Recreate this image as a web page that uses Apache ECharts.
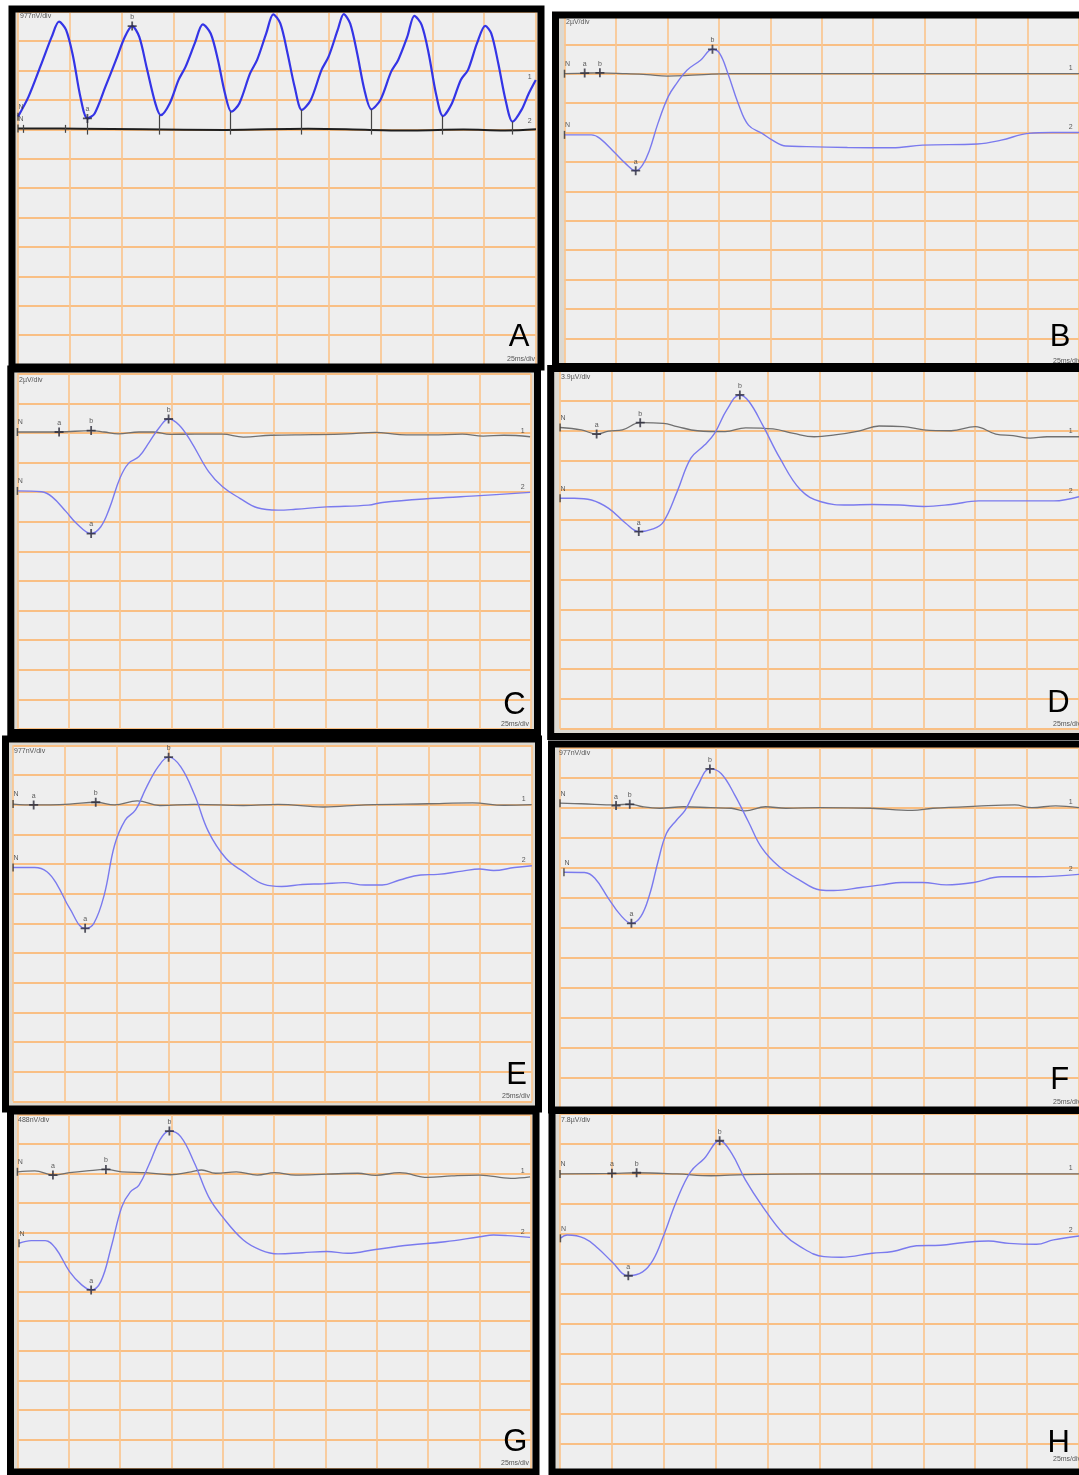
<!DOCTYPE html>
<html><head><meta charset="utf-8">
<script src="https://cdn.jsdelivr.net/npm/echarts/dist/echarts.min.js"></script>
<style>html,body{margin:0;padding:0;background:#fff}#c{width:1079px;height:1475px}</style>
</head><body><div id="c"></div><script>
// ---- axes: time in ms (25 ms/div, 10 div), amplitude in divisions (12 div)
const X_MIN = 0, X_MAX = 250, X_STEP = 25;
const Y_MIN = 0, Y_MAX = 12, Y_STEP = 1;
const panelIds = ['A','B','C','D','E','F','G','H'];
const scaleLabels = ['977nV/div','2µV/div','2µV/div','3.9µV/div','977nV/div','977nV/div','488nV/div','7.8µV/div'];
const timeBaseLabel = '25ms/div';

// ---- traces: [time ms, amplitude div]
const traceA1 = [[0,8.03],[30,8.02],[60,8.0],[100,7.98],[140,8.02],[170,7.98],[190,7.96],[215,7.99],[235,7.96],[250,8.0]];
const traceA2 = [[0,8.43],[5.1,9.11],[11.1,10.19],[16.3,11.15],[19.8,11.66],[23.2,11.38],[26.6,10.47],[30.1,9.11],[33.5,8.37],[37.0,8.54],[42.2,9.45],[47.3,10.36],[51.6,11.15],[55.1,11.51],[58.5,11.15],[62.0,10.13],[66.3,8.88],[68.9,8.48],[73.2,8.88],[77.5,9.68],[80.9,10.13],[85.3,10.92],[89.2,11.57],[93.0,11.26],[96.5,10.36],[99.9,9.22],[103.0,8.60],[106.8,8.88],[112.0,9.90],[115.4,10.36],[119.8,11.26],[123.2,11.91],[126.6,11.60],[130.1,10.58],[133.5,9.45],[137.0,8.66],[141.3,9.00],[146.5,10.02],[149.9,10.47],[154.3,11.38],[157.2,11.92],[160.3,11.60],[163.7,10.58],[167.2,9.34],[170.6,8.68],[174.9,9.00],[180.1,9.96],[183.5,10.36],[187.9,11.15],[191.3,11.86],[194.8,11.55],[198.2,10.58],[201.7,9.22],[205.1,8.45],[209.4,8.88],[213.7,9.68],[217.2,10.02],[221.5,10.92],[225.5,11.52],[228.4,11.26],[231.8,10.24],[235.3,9.00],[238.7,8.26],[243.0,8.66],[246.5,9.22],[249.9,9.68]];
const cursorsA = [[33.6,8.37],[68.4,8.48],[102.2,8.60],[136.5,8.66],[170.6,8.68],[204.6,8.45],[238.4,8.26]];
const ticksA = [2.5, 22.7];

const traceB1 = [[0,10.0],[10,10.02],[17,10.03],[30,10.0],[40,9.97],[50,9.92],[60,9.94],[70,9.98],[80,10.0],[120,10.0],[250,10.0]];
const traceB2 = [[0,7.92],[13.1,7.92],[17.2,7.80],[24.7,7.29],[29.6,6.95],[34.6,6.70],[37.9,6.89],[41.3,7.40],[45.4,8.31],[50.4,9.22],[54.5,9.67],[59.5,10.12],[66.1,10.46],[71.9,10.83],[75.3,10.70],[79.4,10.01],[84.4,8.99],[89.4,8.25],[96.0,7.97],[101.0,7.74],[107.6,7.54],[117.6,7.52],[137.5,7.49],[159.1,7.48],[174.0,7.57],[200.6,7.61],[212.2,7.74],[225.4,7.97],[237.0,8.00],[250,8.00]];

const traceC1 = [[0,10.03],[20.3,10.03],[35.9,10.08],[42.3,10.03],[49.1,9.97],[59.2,10.03],[66.0,10.03],[74.4,9.95],[86.3,9.96],[99.8,9.96],[110.0,9.86],[123.5,9.92],[143.8,9.94],[160.8,9.97],[174.3,10.02],[186.1,9.94],[201.4,9.93],[216.6,9.96],[226.8,9.89],[236.9,9.92],[249.6,9.87]];
const traceC2 = [[0,8.04],[11.8,8.01],[16.9,7.84],[23.7,7.34],[28.8,6.94],[35.9,6.60],[40.6,6.83],[44.8,7.45],[49.9,8.47],[54.1,8.97],[59.2,9.20],[64.3,9.70],[69.4,10.21],[73.6,10.47],[78.7,10.27],[84.6,9.70],[93.1,8.69],[99.9,8.18],[108.3,7.79],[116.8,7.47],[126.9,7.39],[135.4,7.42],[150.6,7.50],[170.9,7.56],[177.7,7.65],[203.1,7.79],[225.1,7.88],[249.6,7.99]];

const traceD1 = [[0,10.10],[10.2,10.02],[17.6,9.88],[23.4,9.98],[30.0,10.02],[38.6,10.26],[49.8,10.24],[56.4,10.13],[66.2,9.99],[79.5,9.96],[89.4,10.09],[102.6,10.05],[112.5,9.90],[122.4,9.79],[132.3,9.85],[143.8,9.98],[153.7,10.15],[165.3,10.13],[175.2,10.02],[188.4,9.99],[200.0,10.13],[209.9,9.88],[218.2,9.83],[226.4,9.74],[234.6,9.79],[250,9.79]];
const traceD2 = [[0,7.73],[6.8,7.73],[15.1,7.67],[23.4,7.39],[31.6,6.89],[37.9,6.61],[44.8,6.70],[49.8,6.94],[56.4,7.95],[63.0,9.07],[69.6,9.51],[74.5,9.91],[80.3,10.69],[86.6,11.19],[91.0,10.97],[97.6,10.18],[105.9,9.07],[115.8,8.01],[125.7,7.61],[138.9,7.50],[150.4,7.52],[163.6,7.50],[175.2,7.45],[188.4,7.52],[201.6,7.64],[221.4,7.64],[237.9,7.64],[250,7.78]];

const traceE1 = [[0,10.02],[10.4,9.99],[27.2,10.02],[39.8,10.08],[48.9,9.99],[59.8,10.13],[70.7,9.97],[87.4,10.01],[110.9,9.97],[127.6,10.01],[149.4,9.92],[169.5,9.99],[199.6,10.03],[221.4,10.06],[236.4,9.98],[249.8,10.0]];
const traceE2 = [[0,7.88],[10.4,7.88],[16.3,7.74],[21.3,7.29],[27.2,6.51],[34.7,5.83],[38.9,6.00],[43.9,6.96],[48.9,8.64],[54.0,9.48],[59.0,9.82],[64.0,10.55],[69.9,11.28],[74.9,11.60],[80.7,11.28],[87.4,10.33],[94.1,9.09],[102.5,8.19],[110.9,7.74],[120.9,7.31],[129.3,7.24],[139.3,7.31],[149.4,7.33],[159.4,7.37],[169.5,7.29],[177.8,7.29],[186.2,7.46],[196.3,7.63],[204.6,7.65],[216.4,7.76],[224.7,7.83],[231.4,7.78],[241.5,7.88],[249.9,7.94]];

const traceF1 = [[0,10.14],[10.2,10.12],[27.0,10.08],[33.6,10.11],[39.8,10.02],[48.0,9.97],[59.5,10.02],[72.6,9.99],[82.5,9.97],[89.1,9.88],[99.0,10.02],[108.8,9.97],[125.3,9.99],[149.9,9.97],[169.7,9.90],[179.6,9.97],[201.0,10.04],[219.1,10.08],[227.3,9.99],[238.8,10.05],[250,9.99]];
const traceF2 = [[1.9,7.84],[11.8,7.83],[16.8,7.64],[23.3,6.97],[29.1,6.42],[34.4,6.14],[38.9,6.36],[43.1,7.08],[47.2,8.19],[51.3,9.14],[56.2,9.58],[60.3,9.91],[66.1,10.69],[72.2,11.28],[77.6,11.13],[84.2,10.41],[90.7,9.53],[97.3,8.64],[105.5,8.03],[115.4,7.58],[125.3,7.25],[131.9,7.23],[145.0,7.33],[154.9,7.42],[164.8,7.50],[174.6,7.50],[186.1,7.42],[199.3,7.50],[212.5,7.69],[228.9,7.69],[250,7.77]];

const traceG1 = [[0,10.06],[8.5,10.09],[17.3,9.95],[25.4,10.03],[33.8,10.09],[43.1,10.14],[50.8,10.06],[62.6,10.03],[74.4,9.96],[84.6,10.06],[89.7,10.12],[96.5,10.01],[106.6,10.06],[116.8,9.95],[125.2,10.03],[135.4,9.95],[150.6,9.98],[165.8,10.01],[174.3,9.94],[186.1,10.03],[199.7,9.87],[211.5,9.92],[225.1,9.95],[240.3,9.84],[249.6,9.89]];
const traceG2 = [[0.8,7.64],[6.8,7.73],[13.5,7.73],[18.6,7.47],[25.4,6.68],[31.3,6.23],[35.9,6.06],[40.6,6.34],[45.7,7.52],[50.8,8.87],[55.0,9.38],[59.2,9.61],[64.3,10.34],[69.4,11.14],[74.0,11.44],[79.5,11.25],[86.3,10.34],[93.1,9.21],[99.8,8.54],[110.0,7.75],[118.5,7.41],[126.9,7.28],[138.8,7.32],[150.6,7.36],[160.8,7.30],[174.3,7.43],[191.2,7.58],[208.2,7.69],[225.1,7.86],[231.8,7.92],[238.6,7.90],[249.6,7.84]];

const traceH1 = [[0,10.0],[25.0,10.02],[36.9,10.04],[56.3,10.0],[72.8,9.94],[89.3,9.98],[122.3,10.0],[171.7,10.0],[250,10.0]];
const traceH2 = [[0.2,7.85],[3.5,7.96],[11.8,7.85],[18.4,7.51],[25.0,7.07],[32.9,6.60],[39.8,6.73],[44.8,7.12],[49.7,7.90],[56.3,9.13],[62.9,10.07],[69.5,10.52],[76.9,11.11],[82.7,10.69],[89.3,9.80],[97.6,8.91],[107.4,8.02],[115.7,7.57],[127.2,7.24],[135.5,7.22],[150.4,7.35],[160.2,7.41],[171.7,7.60],[183.3,7.62],[194.8,7.71],[206.4,7.76],[216.3,7.68],[229.5,7.65],[237.7,7.80],[250,7.93]];

// ---- a / b cursor marks: [label, time ms, amplitude div]
const marksA = [['a',33.5,8.37],['b',55.1,11.51]];
const marksB = [['a',9.8,10.02],['b',17.2,10.03],['a',34.6,6.70],['b',71.9,10.83]];
const marksC = [['a',20.3,10.03],['b',35.9,10.08],['a',35.9,6.60],['b',73.6,10.47]];
const marksD = [['a',17.6,9.88],['b',38.6,10.26],['a',37.9,6.61],['b',86.6,11.19]];
const marksE = [['a',9.9,9.99],['b',39.8,10.08],['a',34.7,5.83],['b',74.9,11.60]];
const marksF = [['a',27.0,10.06],['b',33.6,10.1],['a',34.4,6.14],['b',72.2,11.28]];
const marksG = [['a',17.3,9.95],['b',43.1,10.14],['a',35.9,6.06],['b',74.0,11.44]];
const marksH = [['a',25.0,10.02],['b',36.9,10.04],['a',32.9,6.60],['b',76.9,11.11]];

// ---- channel numbers at right end: [label, time ms, amplitude div]
const endA = [['1',247,9.6],['2',247,8.1]];
const END_T = 246;

// ---- layout (pixels): grid [left, top, width, height], border rect, text anchors
const layout = {
  A:{grid:[18,11.7,518,352.8], border:[12,9,529,358], scale:[20,13], tb:[535,363], letter:[519,337]},
  B:{grid:[564.5,14.9,518,352.8], border:[555.5,15,600,351.5], scale:[566,19], tb:[1081,365], letter:[1060,337]},
  C:{grid:[17.4,373.7,513.5,355.2], border:[10.8,369,526.7,363.5], scale:[19,377], tb:[529,728], letter:[514.5,705]},
  D:{grid:[560.1,370.8,520.7,358], border:[550.7,368.5,600,368], scale:[561,374], tb:[1081,728], letter:[1058.5,703]},
  E:{grid:[13.1,745.3,519,356], border:[5.5,739,533,370], scale:[14,748], tb:[530,1100], letter:[516.5,1075]},
  F:{grid:[560,747.3,522.5,360.4], border:[551.5,744,600,366], scale:[559,750], tb:[1081,1106], letter:[1059.6,1080]},
  G:{grid:[17.4,1114.5,513.5,354.4], border:[10.5,1111,525.5,361], scale:[18,1117], tb:[529,1467], letter:[515.3,1442]},
  H:{grid:[560,1114.1,521,359.2], border:[552,1110.5,600,361.5], scale:[561,1117], tb:[1081,1463], letter:[1058.7,1443]}
};

const traces = {
  A:[traceA1,traceA2], B:[traceB1,traceB2], C:[traceC1,traceC2], D:[traceD1,traceD2],
  E:[traceE1,traceE2], F:[traceF1,traceF2], G:[traceG1,traceG2], H:[traceH1,traceH2]
};
const marks = {A:marksA,B:marksB,C:marksC,D:marksD,E:marksE,F:marksF,G:marksG,H:marksH};

const FONT = '"Liberation Sans", Arial, sans-serif';
const GRID_H_COLOR = '#F9BF84';
const GRID_V_COLOR = '#FAC690';
const BG = '#EEEEEE';
const PLUS = 'path://M4,0h2v4h4v2h-4v4h-2v-4h-4v-2h4z';
const BAR = 'path://M0,0h2v10h-2z';

const grids = [], xAxes = [], yAxes = [], series = [], graphics = [];
panelIds.forEach((id, i) => {
  const L = layout[id];
  grids.push({left:L.grid[0], top:L.grid[1], width:L.grid[2], height:L.grid[3],
    show:true, backgroundColor:BG, borderWidth:0, containLabel:false});
  xAxes.push({type:'value', gridIndex:i, min:X_MIN, max:X_MAX, interval:X_STEP,
    axisLine:{show:false}, axisTick:{show:false}, axisLabel:{show:false},
    splitLine:{show:true, lineStyle:{color:GRID_V_COLOR, width:1.7}}});
  yAxes.push({type:'value', gridIndex:i, min:Y_MIN, max:Y_MAX, interval:Y_STEP,
    axisLine:{show:false}, axisTick:{show:false}, axisLabel:{show:false},
    splitLine:{show:true, lineStyle:{color:GRID_H_COLOR, width:2}}});
  const [t1, t2] = traces[id];
  const isA = id === 'A';
  const s1 = {type:'line', xAxisIndex:i, yAxisIndex:i, data:t1, showSymbol:false, smooth:0.4,
    lineStyle:{color: isA ? '#1e1e1e' : '#707070', width: isA ? 2 : 1.3}, z:3, silent:true, animation:false};
  if (isA) {
    const segs = cursorsA.map(c => [{coord:[c[0], c[1]]},{coord:[c[0], 7.82]}])
      .concat(ticksA.map(t => [{coord:[t, 8.15]},{coord:[t, 7.88]}]));
    s1.markLine = {symbol:['none','none'], silent:true, animation:false, label:{show:false},
      lineStyle:{color:'#444', width:1.2, type:'solid'}, data:segs};
  }
  series.push(s1);
  series.push({type:'line', xAxisIndex:i, yAxisIndex:i, data:t2, showSymbol:false, smooth: isA ? 0.3 : 0.4,
    lineStyle:{color: isA ? '#3434E6' : '#7A7AEE', width: isA ? 2.2 : 1.4}, z:4, silent:true, animation:false});
  series.push({type:'scatter', xAxisIndex:i, yAxisIndex:i, symbol:PLUS, symbolSize:9,
    itemStyle:{color:'#2a2a3a'}, z:6, silent:true, animation:false,
    label:{show:true, position:'top', distance:1, fontSize:7, color:'#333', fontFamily:FONT, formatter:p=>p.name},
    data: marks[id].map(m => ({name:m[0], value:[m[1], m[2]]}))});
  series.push({type:'scatter', xAxisIndex:i, yAxisIndex:i, symbol:BAR, symbolSize:[1.5,8],
    itemStyle:{color:'#333'}, z:6, silent:true, animation:false,
    label:{show:true, position:'top', distance:2, offset:[3,0], fontSize:7, color:'#333', fontFamily:FONT, formatter:'N'},
    data:[t1[0], t2[0]]});
  const ends = isA ? endA : [['1', END_T, t1[t1.length-1][1]], ['2', END_T, t2[t2.length-1][1]]];
  series.push({type:'scatter', xAxisIndex:i, yAxisIndex:i, symbolSize:0, z:6, silent:true, animation:false,
    label:{show:true, position:'top', distance:2, fontSize:7, color:'#333', fontFamily:FONT, formatter:p=>p.name},
    data: ends.map(e => ({name:e[0], value:[e[1], e[2]]}))});
  graphics.push({type:'rect', z:-1, shape:{x:L.border[0], y:L.border[1], width:L.border[2], height:L.border[3]},
    style:{fill:'#DCD9D2'}});
  graphics.push({type:'rect', z:100, shape:{x:L.border[0], y:L.border[1], width:L.border[2], height:L.border[3]},
    style:{fill:'none', stroke:'#000', lineWidth:7}});
  graphics.push({type:'text', z:101, x:L.scale[0], y:L.scale[1],
    style:{text:scaleLabels[i], fill:'#555', font:'7px ' + FONT, textAlign:'left', textVerticalAlign:'top'}});
  graphics.push({type:'text', z:101, x:L.tb[0], y:L.tb[1],
    style:{text:timeBaseLabel, fill:'#555', font:'7px ' + FONT, textAlign:'right', textVerticalAlign:'bottom'}});
  graphics.push({type:'text', z:101, x:L.letter[0], y:L.letter[1],
    style:{text:id, fill:'#000', font:'31px ' + FONT, textAlign:'center', textVerticalAlign:'middle'}});
});

const chart = echarts.init(document.getElementById('c'), null, {renderer:'canvas'});
chart.setOption({
  animation:false,
  backgroundColor:'#ffffff',
  grid:grids, xAxis:xAxes, yAxis:yAxes, series:series,
  graphic:{elements:graphics}
});
</script></body></html>
